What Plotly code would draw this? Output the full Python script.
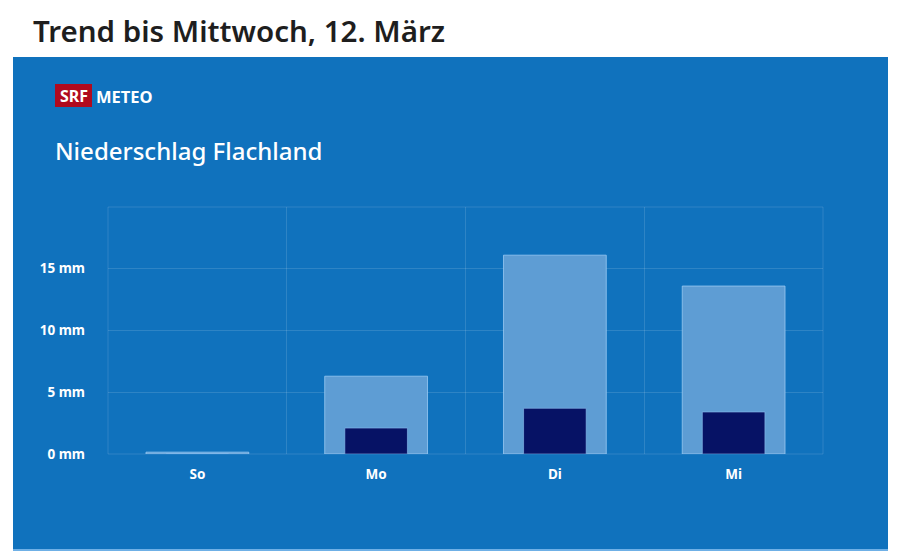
import plotly.graph_objects as go

days = ["So", "Mo", "Di", "Mi"]
precip_max = [0.15, 6.3, 16.1, 13.6]
precip_likely = [0.0, 2.1, 3.7, 3.4]
y_ticks = [0, 5, 10, 15]
y_labels = ["0 mm", "5 mm", "10 mm", "15 mm"]

W, H = 900, 556
OFF = 8  # page body margin offset
L, R, T, B = 108 - OFF, 900 - 823 + OFF, 207 - OFF, 556 - 454 + OFF
PANEL = "#1072BD"
x_pos = list(range(len(days)))

fig = go.Figure()
fig.add_trace(go.Bar(
    x=x_pos, y=precip_max, width=0.575,
    marker=dict(color="#5E9DD4", line=dict(color="rgba(160,205,245,0.75)", width=1)),
    hoverinfo="skip", showlegend=False,
))
fig.add_trace(go.Bar(
    x=x_pos, y=precip_likely, width=0.35,
    marker=dict(color="#061265", line=dict(color="rgba(140,190,240,0.6)", width=1)),
    hoverinfo="skip", showlegend=False,
))

grid = "rgba(255,255,255,0.13)"
fig.update_layout(
    width=W, height=H,
    paper_bgcolor="white", plot_bgcolor=PANEL,
    barmode="overlay",
    margin=dict(l=L, r=R, t=T, b=B),
    font=dict(family="Noto Sans", color="white"),
    xaxis=dict(
        range=[-0.5, 3.5], tickvals=x_pos, ticktext=days,
        showgrid=False, zeroline=False, showline=False, ticks="",
        ticklabelstandoff=10,
        tickfont=dict(size=13.5, color="white", family="Noto Sans", weight="bold"),
        minor=dict(tickvals=[0.5, 1.5, 2.5], showgrid=True, gridcolor=grid, gridwidth=1, ticks=""),
        fixedrange=True,
    ),
    yaxis=dict(
        range=[0, 20], tickvals=y_ticks, ticktext=y_labels,
        showgrid=True, gridcolor=grid, gridwidth=1, zeroline=False, showline=False,
        ticks="", ticklabelstandoff=22,
        tickfont=dict(size=13.5, color="white", family="Noto Sans", weight="bold"),
        fixedrange=True,
    ),
)

pw, ph = W - L - R, H - T - B
def px_x(x):
    return (x - OFF - L) / pw
def px_y(y):
    return (H - B - (y - OFF)) / ph

fig.layout.shapes = [
    dict(type="rect", xref="paper", yref="paper", layer="below",
         x0=px_x(13), x1=px_x(888), y0=px_y(551), y1=px_y(57),
         line=dict(width=0), fillcolor=PANEL),
    dict(type="line", xref="paper", yref="paper", layer="below",
         x0=px_x(13), x1=px_x(888), y0=px_y(550), y1=px_y(550),
         line=dict(width=2, color="#6FB0E6")),
    dict(type="rect", xref="paper", yref="paper", layer="below",
         x0=0, x1=1, y0=0, y1=1,
         line=dict(width=1, color=grid), fillcolor="rgba(0,0,0,0)"),
    dict(type="rect", xref="paper", yref="paper", layer="above",
         x0=px_x(55), x1=px_x(92), y0=px_y(107), y1=px_y(84),
         line=dict(width=0), fillcolor="#B00A1E"),
]

fig.add_annotation(text="Trend bis Mittwoch, 12. März", xref="paper", yref="paper",
                   x=px_x(31), y=px_y(8), xanchor="left", yanchor="top", showarrow=False,
                   font=dict(size=29.5, color="#1E1E1E", family="Noto Sans", weight=600))
fig.add_annotation(text="<b>SRF</b>", xref="paper", yref="paper",
                   x=px_x(73.5), y=px_y(96), xanchor="center", yanchor="middle", showarrow=False,
                   font=dict(size=16, color="white", family="Noto Sans"))
fig.add_annotation(text="<b>METEO</b>", xref="paper", yref="paper",
                   x=px_x(94), y=px_y(96), xanchor="left", yanchor="middle", showarrow=False,
                   font=dict(size=16.5, color="white", family="Noto Sans"))
fig.add_annotation(text="Niederschlag Flachland", xref="paper", yref="paper",
                   x=px_x(53), y=px_y(150), xanchor="left", yanchor="middle", showarrow=False,
                   font=dict(size=24, color="white", family="Noto Sans", weight=500))

fig.write_html("out.html")
